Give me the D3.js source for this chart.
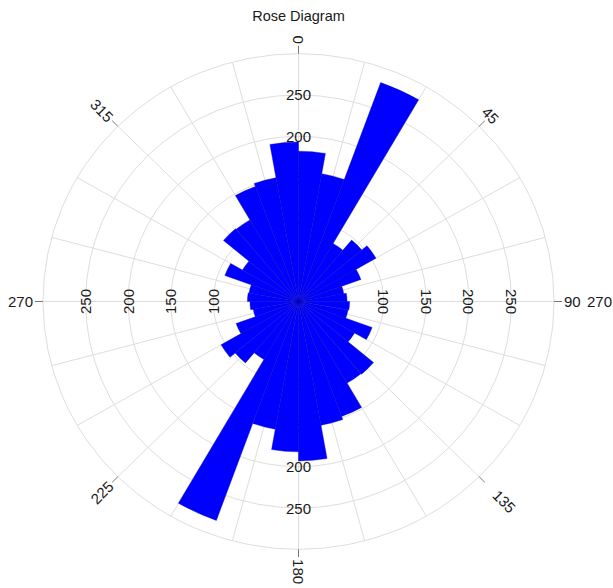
<!DOCTYPE html>
<html>
<head>
<meta charset="utf-8">
<script src="https://cdn.jsdelivr.net/npm/d3@7"></script>
<style>
  html, body { margin: 0; padding: 0; background: #fff; }
  svg { display: block; }
  text { font-family: "Liberation Sans", Arial, sans-serif; fill: #1a1a1a; }
</style>
</head>
<body>
<svg id="chart" width="613" height="588"></svg>
<script>
// Bin start directions (degrees, clockwise from north), 10-degree bins
const binStarts = [0, 10, 20, 30, 40, 50, 60, 70, 80, 90, 100, 110, 120, 130, 140, 150, 160, 170,
                   180, 190, 200, 210, 220, 230, 240, 250, 260, 270, 280, 290, 300, 310, 320, 330, 340, 350];
// Counts per bin (bidirectional data, so opposite bins carry equal counts)
const binCounts = [182, 157, 282, 81, 97, 105, 78, 54, 57, 60, 59, 92, 76, 115, 114, 148, 152, 193,
                   182, 157, 282, 81, 97, 105, 78, 54, 57, 60, 59, 92, 76, 115, 114, 148, 152, 193];
const binWidth = 10;

// Radial axis
const radialMax = 300;
const ringValues = [50, 100, 150, 200, 250, 300];
const radialLabelValues = [100, 150, 200, 250];

// Angular axis
const spokeAngles = d3.range(0, 360, 15);
const angleTickValues = [0, 45, 90, 135, 180, 225, 270, 315];
const angleTickLabels = ["0", "45", "90", "135", "180", "225", "270", "315"];
const extraLabel = "270";

const title = "Rose Diagram";

// ---- layout ----
const cx = 298.5, cy = 301.5, R = 255.5, squeeze = 0.97;
const svg = d3.select("#chart");

svg.append("text")
  .attr("x", cx).attr("y", 20.5)
  .attr("text-anchor", "middle")
  .style("font-size", "14.5px")
  .text(title);

const g = svg.append("g")
  .attr("transform", `translate(${cx},${cy}) scale(1,${squeeze})`);

const r = d3.scaleLinear().domain([0, radialMax]).range([0, R]);
const rad = d => d * Math.PI / 180;
const px = (deg, rr) => rr * Math.sin(rad(deg));
const py = (deg, rr) => -rr * Math.cos(rad(deg));

// grid rings
g.append("g").selectAll("circle").data(ringValues).join("circle")
  .attr("r", d => r(d))
  .attr("fill", "none")
  .attr("stroke", "#dcdcdc")
  .attr("stroke-width", 1);

// grid spokes
g.append("g").selectAll("line").data(spokeAngles).join("line")
  .attr("x1", 0).attr("y1", 0)
  .attr("x2", d => px(d, R)).attr("y2", d => py(d, R))
  .attr("stroke", "#dcdcdc")
  .attr("stroke-width", 1);

// radial value labels along the four cardinal spokes
const cardinal = [
  { a: 0, rot: 0 }, { a: 90, rot: 90 }, { a: 180, rot: 0 }, { a: 270, rot: -90 }
];
const radLab = g.append("g");
cardinal.forEach(c => {
  radialLabelValues.forEach(v => {
    const x = px(c.a, r(v)), y = py(c.a, r(v));
    radLab.append("text")
      .attr("transform", `translate(${x},${y}) scale(1,${1 / squeeze}) rotate(${c.rot})`)
      .attr("text-anchor", "middle")
      .attr("dominant-baseline", "central")
      .style("font-size", "15px")
      .text(v);
  });
});

// petals
const arc = d3.arc()
  .innerRadius(0)
  .outerRadius(d => r(d.count))
  .startAngle(d => rad(d.start))
  .endAngle(d => rad(d.start + binWidth));

const bins = binStarts.map((s, i) => ({ start: s, count: binCounts[i] }));
g.append("g").selectAll("path").data(bins).join("path")
  .attr("d", arc)
  .attr("fill", "#0000ff")
  .attr("stroke", "#0000b8")
  .attr("stroke-width", 0.4);

// angular ticks and labels
const tickLen = 8, gap = 2;
const rotFor = { 0: 90, 45: 45, 90: 0, 135: 45, 180: 90, 225: -45, 270: 0, 315: 45 };
const pushOut = { 135: 13 };
const angG = g.append("g");
angleTickValues.forEach((a, i) => {
  angG.append("line")
    .attr("x1", px(a, R)).attr("y1", py(a, R))
    .attr("x2", px(a, R + tickLen)).attr("y2", py(a, R + tickLen))
    .attr("stroke", "#777").attr("stroke-width", 1);
  const rot = rotFor[a];
  // reading direction vs. outward direction
  const dot = Math.cos(rad(rot)) * Math.sin(rad(a)) + Math.sin(rad(rot)) * (-Math.cos(rad(a)));
  let anchor = "middle", rr = R + tickLen + gap + (pushOut[a] || 0);
  if (dot > 0.5) anchor = "start";
  else if (dot < -0.5) anchor = "end";
  else rr += 6;
  angG.append("text")
    .attr("transform", `translate(${px(a, rr)},${py(a, rr)}) scale(1,${1 / squeeze}) rotate(${rot})`)
    .attr("text-anchor", anchor)
    .attr("dominant-baseline", "central")
    .style("font-size", "15px")
    .text(angleTickLabels[i]);
});
// second label printed beyond the east tick
angG.append("text")
  .attr("transform", `translate(${px(90, R + 33)},${py(90, R + 33)}) scale(1,${1 / squeeze})`)
  .attr("text-anchor", "start")
  .attr("dominant-baseline", "central")
  .style("font-size", "15px")
  .text(extraLabel);
</script>
</body>
</html>
